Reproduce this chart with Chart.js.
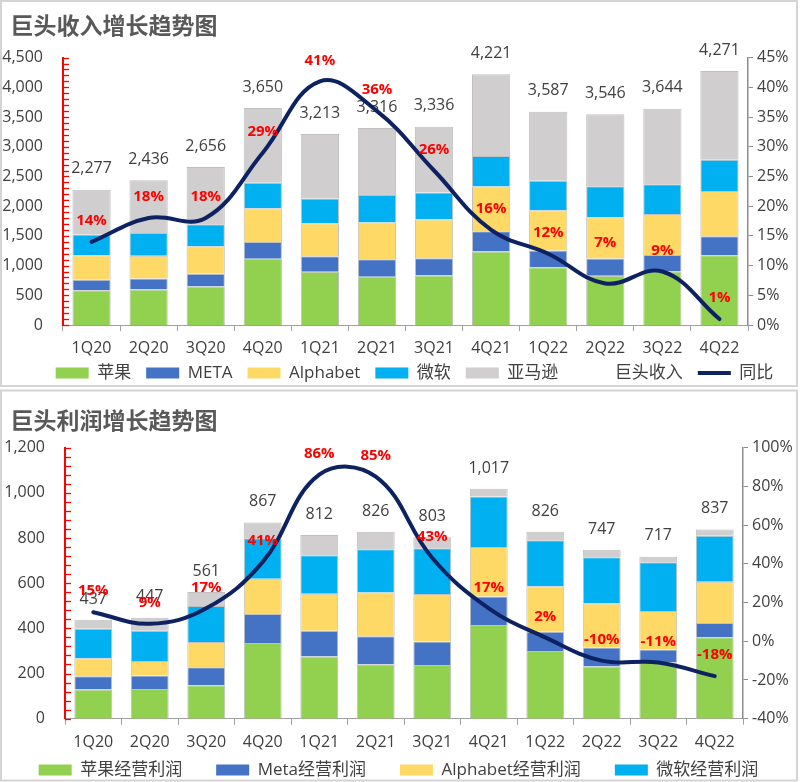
<!DOCTYPE html>
<html>
<head>
<meta charset="utf-8">
<script src="https://cdn.jsdelivr.net/npm/chart.js@4.4.1/dist/chart.umd.min.js"></script>
<style>
html, body { margin: 0; padding: 0; background: #fff; }
canvas { display: block; position: absolute; left: 0; }
#revChart { top: 0; }
#profitChart { top: 388px; }
</style>
</head>
<body>
<canvas id="revChart" width="800" height="388"></canvas>
<canvas id="profitChart" width="800" height="394"></canvas>
<script>
// 单位：亿美元
const quarters = ['1Q20', '2Q20', '3Q20', '4Q20', '1Q21', '2Q21', '3Q21', '4Q21', '1Q22', '2Q22', '3Q22', '4Q22'];

// 收入
const appleRev = [583, 597, 647, 1114, 896, 814, 834, 1239, 973, 830, 901, 1172];
const metaRev = [177, 187, 215, 281, 262, 291, 290, 337, 279, 288, 277, 322];
const googRev = [412, 383, 462, 569, 553, 619, 651, 753, 680, 697, 691, 760];
const msftRev = [350, 380, 372, 431, 417, 462, 453, 517, 494, 519, 501, 527];
const amznRev = [755, 889, 961, 1256, 1085, 1131, 1108, 1374, 1164, 1212, 1271, 1492];
const revTotal = [2277, 2436, 2656, 3650, 3213, 3316, 3336, 4221, 3587, 3546, 3644, 4271];
const revYoY = [14, 18, 18, 29, 41, 36, 26, 16, 12, 7, 9, 1];

// 经营利润
const appleOp = [129, 131, 148, 335, 275, 241, 238, 415, 300, 231, 249, 360];
const metaOp = [59, 60, 80, 128, 114, 124, 104, 126, 85, 84, 57, 64];
const googOp = [80, 64, 112, 157, 164, 194, 210, 219, 201, 195, 171, 182];
const msftOp = [130, 134, 159, 179, 171, 191, 202, 223, 204, 205, 215, 204];
const amznOp = [40, 58, 62, 69, 89, 77, 49, 35, 37, 33, 25, 27];
const opTotal = [437, 447, 561, 867, 812, 826, 803, 1017, 826, 747, 717, 837];
const opYoY = [15, 9, 17, 41, 86, 85, 43, 17, 2, -10, -11, -18];

const FONT = "'Open Sans', 'Noto Sans CJK SC', sans-serif";
const CJK = "'Noto Sans CJK SC', 'Open Sans', sans-serif";
const TEXT = '#404040';
const NAVY = '#0E2262';
const fmt = v => v.toLocaleString('en-US');

// white background, light grey panel frame, legend nudge
const panelBox = {
  id: 'panelBox',
  afterLayout(chart, args, o) {
    const lg = chart.legend;
    if (!lg) return;
    // legend is clipped to its own box, so only move its left/top edges
    lg.left += o.legendDx;
    lg.right += o.legendDx;
    lg.top += o.legendDy;
  },
  beforeDraw(chart) {
    const ctx = chart.ctx;
    ctx.save();
    ctx.fillStyle = '#fff';
    ctx.fillRect(0, 0, chart.width, chart.height);
    ctx.restore();
  },
  afterDraw(chart, args, o) {
    const ctx = chart.ctx;
    ctx.save();
    ctx.strokeStyle = '#D4D4D4';
    ctx.lineWidth = 2;
    ctx.strokeRect(o.rect[0], o.rect[1], o.rect[2], o.rect[3]);
    ctx.restore();
  }
};

// small red ticks on the inner side of the left axis
const redTicks = {
  id: 'redTicks',
  afterDraw(chart, args, o) {
    const s = chart.scales.y, ctx = chart.ctx, x = chart.chartArea.left;
    ctx.save();
    ctx.strokeStyle = '#FF0000';
    ctx.lineWidth = 1.3;
    for (let v = s.min; v <= s.max + 0.001; v += o.step) {
      const y = Math.round(s.getPixelForValue(v)) + 0.5;
      ctx.beginPath();
      ctx.moveTo(x, y);
      ctx.lineTo(x + 6, y);
      ctx.stroke();
    }
    ctx.restore();
  }
};

// totals above the stacks (under the line) and red % labels (over everything)
const valueLabels = {
  id: 'valueLabels',
  beforeDatasetsDraw(chart, args, o) {
    const ctx = chart.ctx, xs = chart.scales.x, ys = chart.scales.y;
    ctx.save();
    ctx.textAlign = 'center';
    ctx.textBaseline = 'middle';
    ctx.font = '16px ' + FONT;
    ctx.fillStyle = TEXT;
    o.totals.forEach((v, i) => {
      ctx.fillText(fmt(v), xs.getPixelForValue(i), ys.getPixelForValue(v) - 21);
    });
    ctx.restore();
  },
  afterDatasetsDraw(chart, args, o) {
    const ctx = chart.ctx;
    const meta = chart.getDatasetMeta(o.lineIndex);
    ctx.save();
    ctx.textAlign = 'center';
    ctx.textBaseline = 'middle';
    ctx.font = 'bold 15px ' + FONT;
    ctx.fillStyle = '#FF0000';
    meta.data.forEach((pt, i) => {
      const nudge = (o.nudge && o.nudge[i]) || 0;
      ctx.fillText(o.pct[i] + '%', pt.x, pt.y - 21 + nudge);
    });
    ctx.restore();
  }
};

function bar(label, data, color) {
  return {
    type: 'bar', label, data,
    backgroundColor: color,
    borderColor: '#C0C0C0',
    borderWidth: 1,
    stack: 'giants',
    order: 1
  };
}

function legendItems(chart) {
  const items = Chart.defaults.plugins.legend.labels.generateLabels(chart);
  items.forEach(it => {
    const ds = chart.data.datasets[it.datasetIndex];
    if (ds.type === 'line' && ds.showLine !== false) {
      it.pointStyle = 'line';
    } else {
      it.pointStyle = 'rect';
      it.lineWidth = 0;
    }
  });
  return items;
}

function makeChart(id, cfg) {
  return new Chart(document.getElementById(id), {
    data: {
      labels: quarters,
      datasets: [
        bar(cfg.names[0], cfg.series[0], '#92D050'),
        bar(cfg.names[1], cfg.series[1], '#4472C4'),
        bar(cfg.names[2], cfg.series[2], '#FFD966'),
        bar(cfg.names[3], cfg.series[3], '#00B0F0'),
        bar(cfg.names[4], cfg.series[4], '#D0CECE'),
        {
          type: 'line', label: cfg.names[5], data: cfg.totals,
          showLine: false, pointRadius: 0,
          borderColor: 'transparent', backgroundColor: 'transparent',
          stack: 'totals', order: 1
        },
        {
          type: 'line', label: '同比', data: cfg.yoy, yAxisID: 'y1',
          borderColor: NAVY, backgroundColor: NAVY,
          borderWidth: 4, pointRadius: 0, tension: 0.4, fill: false,
          borderCapStyle: 'round', stack: 'yoy', order: 0
        }
      ]
    },
    options: {
      responsive: false,
      animation: false,
      layout: { padding: { left: 0, right: 3, top: 0, bottom: 0 } },
      datasets: { bar: { barPercentage: 0.67, categoryPercentage: 1 } },
      scales: {
        x: {
          stacked: true,
          afterFit: s => { s.height = 36; },
          grid: { drawOnChartArea: false, drawTicks: true, tickLength: 6, color: '#A0A0A0', offset: true },
          border: { color: '#A0A0A0', width: 1 },
          ticks: { color: TEXT, font: { family: FONT, size: 16 }, padding: cfg.xPad, maxRotation: 0 }
        },
        y: {
          stacked: true,
          min: 0, max: cfg.yMax,
          afterFit: s => { s.width = cfg.yWidth; },
          grid: { display: false, drawTicks: false },
          border: { color: '#FF0000', width: 2 },
          ticks: { stepSize: cfg.yStep, color: TEXT, font: { family: FONT, size: 16 }, padding: 20, callback: v => fmt(v) }
        },
        y1: {
          position: 'right',
          min: cfg.pMin, max: cfg.pMax,
          afterFit: s => { s.width = cfg.y1Width; },
          grid: { drawOnChartArea: false, drawTicks: true, tickLength: 5, color: '#8C8C8C' },
          border: { color: '#8C8C8C', width: 1.5 },
          ticks: { stepSize: cfg.pStep, color: TEXT, font: { family: FONT, size: 16 }, padding: 4, callback: v => v + '%' }
        }
      },
      plugins: {
        title: {
          display: true, text: '  ' + cfg.title, align: 'start', color: '#595959',
          font: { family: CJK, size: 23, weight: 'bold' },
          padding: cfg.titlePad
        },
        legend: {
          position: 'bottom',
          maxHeight: cfg.legendMax,
          labels: {
            color: TEXT,
            font: { family: FONT, size: 17 },
            usePointStyle: true, pointStyleWidth: 33, boxHeight: 11,
            padding: cfg.legendPad,
            generateLabels: legendItems,
            sort: (a, b) => a.datasetIndex - b.datasetIndex,
            filter: cfg.legendFilter || (() => true)
          }
        },
        tooltip: { enabled: false },
        panelBox: { rect: cfg.frame, legendDx: cfg.legendDx, legendDy: cfg.legendDy },
        redTicks: { step: cfg.minorStep },
        valueLabels: { totals: cfg.totals, pct: cfg.yoy, lineIndex: 6, nudge: cfg.nudge }
      }
    },
    plugins: [panelBox, redTicks, valueLabels]
  });
}

makeChart('revChart', {
  title: '巨头收入增长趋势图',
  names: ['苹果', 'META', 'Alphabet', '微软', '亚马逊', '巨头收入'],
  series: [appleRev, metaRev, googRev, msftRev, amznRev],
  totals: revTotal, yoy: revYoY,
  yMax: 4500, yStep: 500, minorStep: 100,
  pMin: 0, pMax: 45, pStep: 5,
  yWidth: 63, y1Width: 49,
  xPad: 7.5,
  titlePad: { top: 11, bottom: 19 },
  legendPad: 15, legendMax: 27, legendDx: 16, legendDy: -11.5,
  frame: [1, 1, 796, 385],
  nudge: { 9: -20 }
});

makeChart('profitChart', {
  title: '巨头利润增长趋势图',
  names: ['苹果经营利润', 'Meta经营利润', 'Alphabet经营利润', '微软经营利润', '亚马逊经营利润', '巨头利润'],
  series: [appleOp, metaOp, googOp, msftOp, amznOp],
  totals: opTotal, yoy: opYoY,
  yMax: 1200, yStep: 200, minorStep: 40,
  pMin: -40, pMax: 100, pStep: 20,
  yWidth: 65, y1Width: 54,
  xPad: 7.7,
  titlePad: { top: 18, bottom: 14 },
  legendPad: 34, legendMax: 27.3, legendDx: 0, legendDy: -27.2,
  frame: [1, 2.5, 796, 390],
  legendFilter: it => it.datasetIndex < 4
});
</script>
</body>
</html>
